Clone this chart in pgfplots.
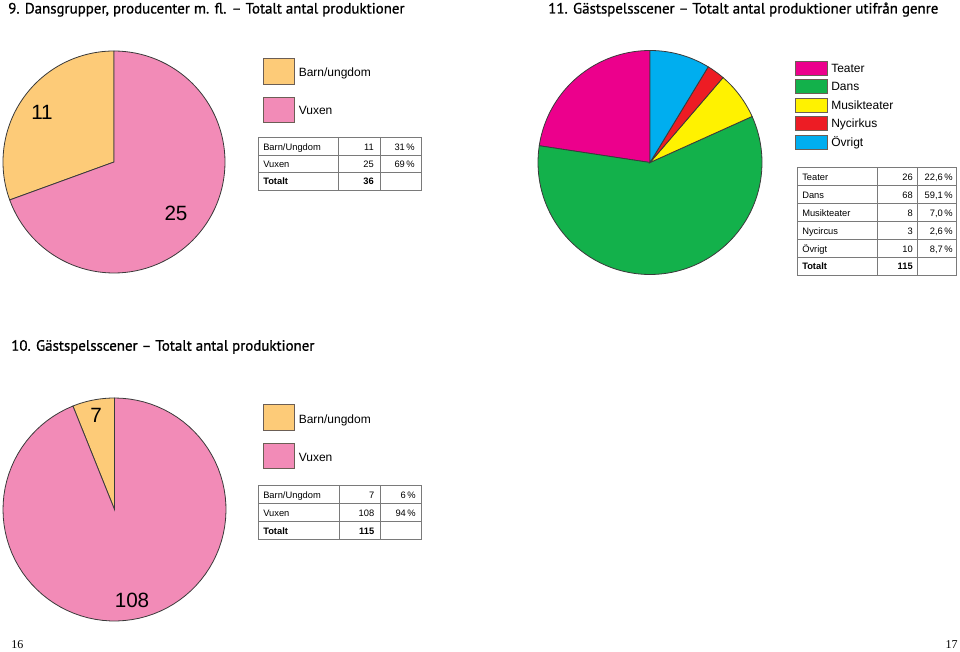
\documentclass[border=0pt]{standalone}
\usepackage{fontspec}
\setmainfont{Liberation Sans}
\newfontfamily\titlefont{PT Sans}[FakeBold=0.9]
\newfontfamily\pagefont{Liberation Serif}
\usepackage{pgfplots}
\pgfplotsset{compat=1.18}

\definecolor{barn}{HTML}{FDCB78}
\definecolor{vuxen}{HTML}{F28BB7}
\definecolor{teater}{HTML}{EC008C}
\definecolor{dans}{HTML}{13B14B}
\definecolor{musik}{HTML}{FFF200}
\definecolor{nycirkus}{HTML}{ED1C24}
\definecolor{ovrigt}{HTML}{00AEEF}
\definecolor{edge}{HTML}{3A3A3A}
\definecolor{rule}{HTML}{7A7A7A}
\definecolor{swedge}{HTML}{6B5E55}

% pie: centre x, centre y, radius, total, {value/colour,...}
% slices start at 12 o'clock and run counter-clockwise
\newcommand{\pie}[5]{%
  \gdef\cum{0}%
  \pgfmathsetmacro\step{360/#4}%
  \foreach \v/\c in {#5} {%
    \pgfmathsetmacro\a{90+\step*\cum}%
    \pgfmathsetmacro\b{90+\step*(\cum+\v)}%
    \edef\tmp{\noexpand\addplot[draw=edge, line width=0.6pt, fill=\c,
      domain=\a:\b, samples=90, variable=\noexpand\t, forget plot]
      ({#1+#3*cos(\noexpand\t)},{#2-#3*sin(\noexpand\t)}) -- (axis cs:#1,#2) -- cycle;}%
    \tmp
    \pgfmathsetmacro\newcum{\cum+\v}\global\let\cum\newcum
  }}

\tikzset{
  lab/.style={font=\fontsize{9}{10}\selectfont, inner sep=0pt, anchor=base west},
  cell/.style={font=\fontsize{7}{8}\selectfont, inner sep=0pt, anchor=base west},
  num/.style={font=\fontsize{7}{8}\selectfont, inner sep=0pt, anchor=base east},
  big/.style={font=\fontsize{15.5}{17}\selectfont, inner sep=0pt, anchor=center},
  ttl/.style={font=\titlefont\fontsize{11.2}{13}\selectfont, inner sep=0pt, anchor=base west},
  sw/.style={draw=swedge, line width=0.5pt},
}

\begin{document}
\begin{tikzpicture}
\begin{axis}[
  scale only axis,
  width=720pt, height=489pt,
  xmin=0, xmax=960, ymin=0, ymax=652,
  y dir=reverse,
  hide axis,
  clip=false,
]
\path (0,0) rectangle (960,652);

% ---- 9. Dansgrupper
\pie{114}{162}{111}{36}{11/barn, 25/vuxen}
\node[big] at (42,112) {11};
\node[big] at (176,213) {25};

\node[ttl] at (8,13.5) {9. Dansgrupper, producenter m. fl. – Totalt antal produktioner};

\draw[sw, fill=barn] (263,58.5) rectangle (294.5,84.5);
\draw[sw, fill=vuxen] (263,97) rectangle (294.5,122.5);
\node[lab] at (298.5,77) {Barn/ungdom};
\node[lab] at (298.5,115) {Vuxen};

\draw[rule, line width=0.6pt] (258,137) rectangle (421,190);
\draw[rule, line width=0.6pt] (258,155) -- (421,155) (258,172.5) -- (421,172.5)
  (338,137) -- (338,190) (380,137) -- (380,190);
\node[cell] at (263,150.3) {Barn/Ungdom};
\node[num] at (374,150.3) {11};
\node[num] at (415,150.3) {31\,\%};
\node[cell] at (263,167.6) {Vuxen};
\node[num] at (374,167.6) {25};
\node[num] at (415,167.6) {69\,\%};
\node[cell, font=\fontsize{7}{8}\selectfont\bfseries] at (263,184.9) {Totalt};
\node[num, font=\fontsize{7}{8}\selectfont\bfseries] at (374,184.9) {36};

% ---- 11. Gästspelsscener per genre
\pie{650}{162.5}{112}{115}{26/teater, 68/dans, 8/musik, 3/nycirkus, 10/ovrigt}
\node[ttl] at (548,13.5) {11. Gästspelsscener – Totalt antal produktioner utifrån genre};

\draw[sw, fill=teater] (795,61) rectangle (827,75);
\draw[sw, fill=dans] (795,79.5) rectangle (827,93.5);
\draw[sw, fill=musik] (795,98) rectangle (827,112);
\draw[sw, fill=nycirkus] (795,116.5) rectangle (827,130.5);
\draw[sw, fill=ovrigt] (795,135) rectangle (827,149);
\node[lab] at (831,72.5) {Teater};
\node[lab] at (831,91) {Dans};
\node[lab] at (831,109.5) {Musikteater};
\node[lab] at (831,128) {Nycirkus};
\node[lab] at (831,146.5) {Övrigt};

\draw[rule, line width=0.6pt] (797,167.3) rectangle (956,275);
\draw[rule, line width=0.6pt] (797,185.3) -- (956,185.3) (797,203.3) -- (956,203.3)
  (797,221.3) -- (956,221.3) (797,239.3) -- (956,239.3) (797,257.3) -- (956,257.3);
\draw[rule, line width=0.6pt] (877,167.3) -- (877,275) (917,167.3) -- (917,275);
\node[cell] at (802,180.3) {Teater};
\node[num] at (913,180.3) {26};
\node[num] at (953,180.3) {22,6\,\%};
\node[cell] at (802,198.3) {Dans};
\node[num] at (913,198.3) {68};
\node[num] at (953,198.3) {59,1\,\%};
\node[cell] at (802,216.3) {Musikteater};
\node[num] at (913,216.3) {8};
\node[num] at (953,216.3) {7,0\,\%};
\node[cell] at (802,234.3) {Nycircus};
\node[num] at (913,234.3) {3};
\node[num] at (953,234.3) {2,6\,\%};
\node[cell] at (802,252.3) {Övrigt};
\node[num] at (913,252.3) {10};
\node[num] at (953,252.3) {8,7\,\%};
\node[cell, font=\fontsize{7}{8}\selectfont\bfseries] at (802,270) {Totalt};
\node[num, font=\fontsize{7}{8}\selectfont\bfseries] at (913,270) {115};

% ---- 10. Gästspelsscener
\pie{114.5}{509.5}{111.5}{115}{7/barn, 108/vuxen}
\node[big] at (96,415) {7};
\node[big] at (132,600) {108};
\node[ttl] at (11,350.7) {10. Gästspelsscener – Totalt antal produktioner};

\draw[sw, fill=barn] (263,404.5) rectangle (294.5,430);
\draw[sw, fill=vuxen] (263,443) rectangle (294.5,468.5);
\node[lab] at (298.5,423) {Barn/ungdom};
\node[lab] at (298.5,461) {Vuxen};

\draw[rule, line width=0.6pt] (258,485) rectangle (421.5,539);
\draw[rule, line width=0.6pt] (258,503) -- (421.5,503) (258,521) -- (421.5,521)
  (339,485) -- (339,539) (380,485) -- (380,539);
\node[cell] at (263,498.5) {Barn/Ungdom};
\node[num] at (374.5,498.5) {7};
\node[num] at (416,498.5) {6\,\%};
\node[cell] at (263,516.5) {Vuxen};
\node[num] at (374.5,516.5) {108};
\node[num] at (416,516.5) {94\,\%};
\node[cell, font=\fontsize{7}{8}\selectfont\bfseries] at (263,534.5) {Totalt};
\node[num, font=\fontsize{7}{8}\selectfont\bfseries] at (374.5,534.5) {115};

% page numbers
\node[inner sep=0pt, anchor=base west, font=\pagefont\fontsize{9}{10}\selectfont] at (11,648) {16};
\node[inner sep=0pt, anchor=base east, font=\pagefont\fontsize{9}{10}\selectfont] at (958,648) {17};
\end{axis}
\end{tikzpicture}
\end{document}
